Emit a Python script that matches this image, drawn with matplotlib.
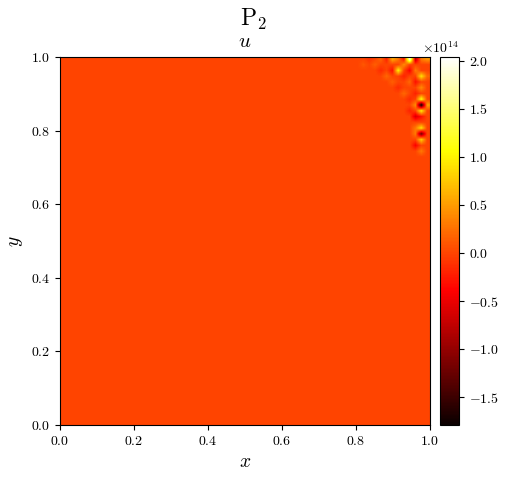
import numpy as np
import matplotlib
matplotlib.use("Agg")
import matplotlib.pyplot as plt

plt.rcParams['font.family'] = 'serif'
plt.rcParams['font.serif'] = ['cmr10']
plt.rcParams['mathtext.fontset'] = 'cm'
plt.rcParams['axes.formatter.use_mathtext'] = True

# grid of the field u (64 x 64 cells), nearly zero except near the top-right corner
N = 64
# (column, row counted from the top, value in units of 1e14)
COLS = [60, 61, 62, 63, 59, 58, 57, 56, 55, 59, 58, 57, 60, 59, 61, 62, 63, 61,
        62, 61, 62, 62, 63, 61, 62, 61, 62, 60, 61, 62, 62, 61, 62, 61, 62,
        56, 55, 54, 57, 58, 59, 60, 53, 52, 60]
ROWS = [0, 0, 0, 0, 0, 0, 0, 0, 0, 1, 2, 2, 2, 3, 2, 3, 3, 4,
        5, 6, 7, 8, 8, 8, 9, 10, 10, 9, 12, 12, 13, 13, 14, 15, 16,
        3, 2, 1, 4, 5, 6, 7, 0, 1, 4]
VALS = [2.04, -0.8, 0.3, 0.5, -0.3, 0.3, 0.6, -0.2, 0.2, 0.4, 1.0, -0.3, -0.4, -0.2, 0.3, 0.9, 0.2, -0.3,
        0.4, -0.2, 1.1, -1.79, 0.5, 0.4, 1.0, -0.6, -0.3, -0.2, 0.3, 0.9, -1.2, 0.3, 0.8, -0.4, 0.3,
        0.2, -0.15, 0.15, 0.15, -0.15, 0.2, -0.15, -0.1, 0.1, 0.2]

U = np.zeros((N, N))
for c, r, v in zip(COLS, ROWS, VALS):
    U[r, c] = v * 1e14

fig = plt.figure(figsize=(5.06, 4.8), dpi=100)
ax = fig.add_axes([60/506, 55/480, 370/506, 368/480])
cax = fig.add_axes([440/506, 55/480, 19/506, 368/480])

im = ax.imshow(U, cmap='hot', origin='upper', extent=[0, 1, 0, 1],
               interpolation='bilinear', aspect='auto')
cb = fig.colorbar(im, cax=cax)

ax.set_xlim(0, 1)
ax.set_ylim(0, 1)
ax.set_xlabel('$x$', fontsize=14)
ax.set_ylabel('$y$', fontsize=14)
ax.set_title('$u$', fontsize=15, pad=7)
fig.suptitle(r'$\mathrm{P}_2$', fontsize=17, y=0.985)

fig.savefig('out.png', dpi=100)
